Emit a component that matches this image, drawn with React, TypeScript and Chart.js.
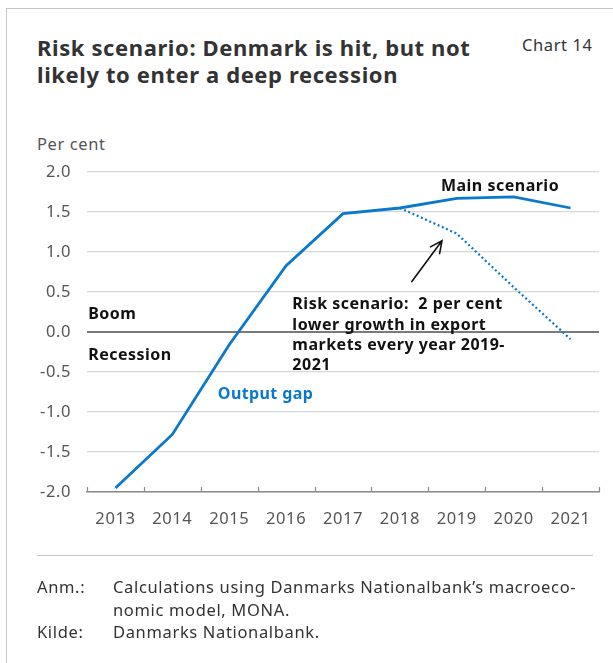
import React, { useEffect, useRef } from "react";
import { Chart, registerables } from "chart.js";

Chart.register(...registerables);

// Output gap, per cent
const years = ["2013", "2014", "2015", "2016", "2017", "2018", "2019", "2020", "2021"];
const mainScenario = [-1.95, -1.28, -0.16, 0.83, 1.48, 1.55, 1.67, 1.69, 1.55];
const riskScenario = [null, null, null, null, null, 1.55, 1.23, 0.56, -0.09];

const yMin = -2;
const yMax = 2;
const yStep = 0.5;

const riskNote = [
  "Risk scenario:  2 per cent",
  "lower growth in export",
  "markets every year 2019-",
  "2021",
];

const BLUE = "#0a78cc";
const FONT = "'Noto Sans', 'Open Sans', sans-serif";

// Slightly opened tracking for all canvas text
const spacingPlugin = {
  id: "spacing",
  beforeDraw(chart: any) {
    chart.ctx.letterSpacing = "0.6px";
  },
};

// Labels, arrow and inward category ticks drawn in data space
const overlayPlugin = {
  id: "overlay",
  afterDatasetsDraw(chart: any) {
    const { ctx, scales } = chart;
    const x = scales.x;
    const y = scales.y;
    const area = chart.chartArea;
    ctx.save();

    // inward ticks on the category boundaries
    ctx.strokeStyle = "#8a8a8a";
    ctx.lineWidth = 1.2;
    for (let i = 0; i <= years.length; i++) {
      const px = Math.round(x.getPixelForValue(i - 0.5)) + 0.5;
      ctx.beginPath();
      ctx.moveTo(px, area.bottom);
      ctx.lineTo(px, area.bottom - 5);
      ctx.stroke();
    }

    ctx.textBaseline = "middle";
    ctx.letterSpacing = "0.5px";
    ctx.font = `bold 16px ${FONT}`;

    ctx.fillStyle = "#111";
    ctx.textAlign = "center";
    ctx.fillText("Main scenario", x.getPixelForValue(6.76), y.getPixelForValue(1.82));

    ctx.textAlign = "left";
    ctx.fillText("Boom", x.getPixelForValue(-0.48), y.getPixelForValue(0.22));
    ctx.fillText("Recession", x.getPixelForValue(-0.48), y.getPixelForValue(-0.29));

    const noteX = x.getPixelForValue(3.11);
    const noteY = y.getPixelForValue(0.34);
    riskNote.forEach((line, i) => ctx.fillText(line, noteX, noteY + i * 20.3));

    ctx.fillStyle = BLUE;
    ctx.letterSpacing = "0.4px";
    ctx.fillText("Output gap", x.getPixelForValue(1.8), y.getPixelForValue(-0.785));

    // arrow pointing at the risk scenario
    const x0 = x.getPixelForValue(5.21);
    const y0 = y.getPixelForValue(0.63);
    const x1 = x.getPixelForValue(5.74);
    const y1 = y.getPixelForValue(1.14);
    const ang = Math.atan2(y1 - y0, x1 - x0);
    const head = 13;
    const spread = 0.45;
    ctx.strokeStyle = "#111";
    ctx.lineWidth = 1.6;
    ctx.lineCap = "round";
    ctx.beginPath();
    ctx.moveTo(x0, y0);
    ctx.lineTo(x1, y1);
    ctx.moveTo(x1 - head * Math.cos(ang - spread), y1 - head * Math.sin(ang - spread));
    ctx.lineTo(x1, y1);
    ctx.lineTo(x1 - head * Math.cos(ang + spread), y1 - head * Math.sin(ang + spread));
    ctx.stroke();

    ctx.restore();
  },
};

function OutputGapChart() {
  const ref = useRef<HTMLCanvasElement | null>(null);

  useEffect(() => {
    if (!ref.current) return;
    const chart = new Chart(ref.current, {
      type: "line",
      data: {
        labels: years,
        datasets: [
          {
            label: "Main scenario",
            data: mainScenario,
            borderColor: BLUE,
            borderWidth: 2.8,
            pointRadius: 0,
            tension: 0,
            fill: false,
          },
          {
            label: "Risk scenario",
            data: riskScenario as any,
            borderColor: BLUE,
            borderWidth: 2.2,
            borderDash: [2, 2.6],
            pointRadius: 0,
            tension: 0,
            fill: false,
            spanGaps: false,
          },
        ],
      },
      options: {
        responsive: false,
        animation: false,
        devicePixelRatio: 1,
        layout: { padding: { left: 0, right: 14, top: 172, bottom: 131 } },
        plugins: {
          legend: { display: false },
          tooltip: { enabled: false },
          title: { display: false },
        },
        scales: {
          x: {
            type: "category",
            offset: true,
            grid: { display: false },
            border: { display: true, color: "#8a8a8a", width: 1.4 },
            ticks: {
              color: "#555",
              font: { family: FONT, size: 16.5 },
              padding: 9,
              maxRotation: 0,
              autoSkip: false,
            },
            afterFit(scale: any) {
              scale.height = 40;
            },
          },
          y: {
            min: yMin,
            max: yMax,
            border: { display: false },
            grid: {
              drawTicks: false,
              color: (c: any) => (c.tick && c.tick.value === 0 ? "#7a7a7a" : "#d6d6d6"),
              lineWidth: (c: any) => (c.tick && c.tick.value === 0 ? 2 : 1.2),
            },
            ticks: {
              stepSize: yStep,
              color: "#555",
              font: { family: FONT, size: 16.5 },
              padding: 16,
              callback: (v: any) => Number(v).toFixed(1),
            },
            afterFit(scale: any) {
              scale.width = 87;
            },
          },
        },
      },
      plugins: [spacingPlugin, overlayPlugin],
    });
    return () => chart.destroy();
  }, []);

  return <canvas ref={ref} width={613} height={663} style={{ position: "absolute", left: 0, top: 0 }} />;
}

export default function App() {
  const text: React.CSSProperties = {
    position: "absolute",
    fontFamily: FONT,
    color: "#333",
    margin: 0,
    letterSpacing: "0.6px",
    whiteSpace: "nowrap",
  };
  return (
    <div style={{ position: "absolute", left: 0, top: 0, width: 613, height: 663, overflow: "hidden", background: "#fff" }}>
      <div
        style={{
          position: "absolute",
          left: 6,
          top: 8,
          right: 0,
          bottom: 0,
          borderTop: "1.5px solid #c8c8c8",
          borderLeft: "1.5px solid #c8c8c8",
        }}
      />
      <div style={{ ...text, left: 37, top: 34, fontSize: 22, fontWeight: 700, lineHeight: "26.5px", color: "#333" }}>
        Risk scenario: Denmark is hit, but not
        <br />
        likely to enter a deep recession
      </div>
      <div style={{ ...text, left: 522, top: 34, fontSize: 16.5, lineHeight: "22px" }}>Chart 14</div>
      <div style={{ ...text, left: 37, top: 133, fontSize: 16.5, lineHeight: "22px", color: "#555" }}>Per cent</div>
      <OutputGapChart />
      <div style={{ position: "absolute", left: 37, top: 555, width: 556, height: 0, borderTop: "1.5px solid #c8c8c8" }} />
      <div style={{ ...text, left: 37, top: 576, fontSize: 16.5, lineHeight: "22.5px", letterSpacing: "0.65px" }}>
        <div style={{ display: "flex" }}>
          <span style={{ width: 76, flexShrink: 0 }}>Anm.:</span>
          <span>
            Calculations using Danmarks Nationalbank’s macroeco-
            <br />
            nomic model, MONA.
          </span>
        </div>
        <div style={{ display: "flex" }}>
          <span style={{ width: 76, flexShrink: 0 }}>Kilde:</span>
          <span>Danmarks Nationalbank.</span>
        </div>
      </div>
    </div>
  );
}
